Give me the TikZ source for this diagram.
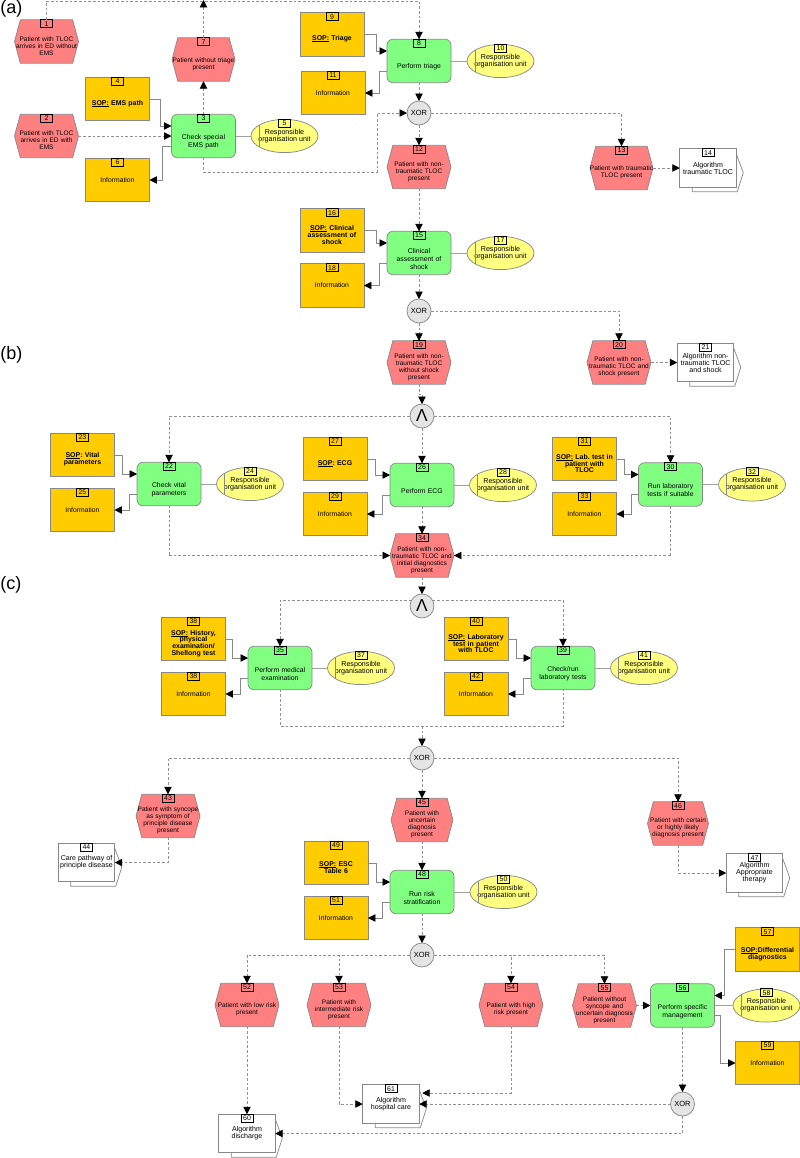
\documentclass[tikz,border=0pt]{standalone}
\usepackage{fontspec}
\setmainfont{Liberation Sans}
\usetikzlibrary{positioning}
\usetikzlibrary{arrows.meta, shapes.geometric}

\makeatletter
\pgfdeclareshape{evthex}{
	\inheritsavedanchors[from=rectangle]
	\inheritanchorborder[from=rectangle]
	\inheritanchor[from=rectangle]{center}
	\inheritanchor[from=rectangle]{north}
	\inheritanchor[from=rectangle]{south}
	\inheritanchor[from=rectangle]{east}
	\inheritanchor[from=rectangle]{west}
	\backgroundpath{
		\southwest \edef\hxa{\the\pgf@x} \edef\hya{\the\pgf@y}
		\northeast \edef\hxb{\the\pgf@x} \edef\hyb{\the\pgf@y}
		\pgfpathmoveto{\pgfpoint{\hxa}{(\hya+\hyb)/2}}
		\pgfpathlineto{\pgfpoint{\hxa+4.4pt}{\hyb}}
		\pgfpathlineto{\pgfpoint{\hxb-4.4pt}{\hyb}}
		\pgfpathlineto{\pgfpoint{\hxb}{(\hya+\hyb)/2}}
		\pgfpathlineto{\pgfpoint{\hxb-4.4pt}{\hya}}
		\pgfpathlineto{\pgfpoint{\hxa+4.4pt}{\hya}}
		\pgfpathclose
	}
}
\makeatother

\newcommand{\sopmark}[1]{\leavevmode\setbox0=\hbox{#1}\rlap{\rule[-.8pt]{\wd0}{.4pt}}\box0\relax}

\definecolor{evtred}{HTML}{FF8080}
\definecolor{fungreen}{HTML}{80FF80}
\definecolor{docamber}{HTML}{FFCC00}
\definecolor{orgyellow}{HTML}{FFFF80}
\definecolor{gategray}{HTML}{E4E4E4}
\definecolor{edgegray}{HTML}{888888}
\definecolor{flowgray}{HTML}{909090}

\tikzset{
	numtag/.style={label={[numbox]north:#1}},
	numbox/.style={draw=black, line width=.65pt, anchor=north, outer sep=0pt,
		minimum width=9pt, minimum height=6pt, inner sep=0pt, align=center,
		font=\fontsize{5.2}{5.2}\selectfont},
	basebox/.style={draw=edgegray, line width=.55pt, inner sep=0pt, outer sep=0pt, align=center},
	evtbox/.style={basebox, shape=evthex, fill=evtred, text width=(#1+8)*.75pt, inner xsep=-3pt, minimum height=32.6pt,
		font=\fontsize{4.9}{5.25}\selectfont, execute at begin node={\\[5pt]}},
	evtbox/.default=64,
	funbox/.style={basebox, rounded corners=4.5pt, fill=fungreen, text width=54pt, inner xsep=-3pt, minimum height=32.6pt,
		font=\fontsize{5.15}{6}\selectfont, execute at begin node={\\[6.5pt]}},
	sopbox/.style={basebox, fill=docamber, text width=54pt, inner xsep=-3pt, minimum height=32.6pt,
		font=\fontsize{5.2}{5.1}\selectfont\bfseries\frenchspacing, execute at begin node={\\[5.5pt]}},
	infobox/.style={basebox, fill=docamber, minimum width=48pt, minimum height=32.6pt,
		font=\fontsize{5.1}{5.3}\selectfont},
	orgbox/.style={basebox, shape=ellipse, fill=orgyellow, minimum width=50.25pt, minimum height=24.9pt,
		inner xsep=-2.5pt, inner ysep=0pt, font=\fontsize{5.35}{5.25}\selectfont},
	docbox/.style={basebox, fill=white, minimum width=42.4pt, minimum height=28.9pt,
		font=\fontsize{5.3}{5.25}\selectfont},
	doclayer/.style={draw=edgegray, line width=.55pt},
	gatebox/.style={basebox, shape=circle, fill=gategray, minimum size=18pt, font=\fontsize{5.6}{5.6}\selectfont},
	andbox/.style={gatebox, font=\fontsize{13}{13}\selectfont},
	flow/.style={draw=flowgray, line width=.65pt, dash pattern=on 2pt off 1.5pt,
		-{Triangle[color=black,length=5.6pt,width=5.6pt]}},
	flowplain/.style={draw=flowgray, line width=.65pt, dash pattern=on 2pt off 1.5pt},
	ctl/.style={draw=edgegray, line width=.65pt, -{Triangle[color=black,length=5.6pt,width=5.6pt]}},
	assign/.style={draw=edgegray!80, line width=.7pt},
	partlabel/.style={anchor=west, inner sep=0pt, font=\fontsize{13.5}{13.5}\selectfont}
}

\begin{document}
\begin{tikzpicture}[x=.75pt,y=-.75pt]
\useasboundingbox (0,0) rectangle (800,1158);

\node[partlabel] (laba) at (0,9) {(a)};
\node[partlabel] (labb) at (0,355) {(b)};
\node[partlabel] (labc) at (0,585) {(c)};

%part a
\node[evtbox, numtag=1] (e1) at (46.5,41.5) {Patient with TLOC\\arrives in ED without\\EMS};
\node[evtbox, numtag=2] (e2) at (46.5,136) {Patient with TLOC\\arrives in ED with\\EMS};
\node[funbox, numtag=3] (f3) at (203.5,136) {Check special\\EMS path};
\node[sopbox, numtag=4] (s4) at (117.5,99) {\sopmark{SOP:} EMS path};
\node[orgbox, numtag=5] (o5) at (284.5,136) {Responsible\\organisation unit};
\node[infobox, numtag=6] (i6) at (117.5,180) {Information};
\node[evtbox=63, numtag=7] (e7) at (203.5,59.5) {Patient without triage\\present};
\node[funbox, numtag=8] (f8) at (419,61) {Perform triage};
\node[sopbox, numtag=9] (s9) at (332,34.5) {\sopmark{SOP:} Triage};
\node[orgbox, numtag=10] (o10) at (500.5,61) {Responsible\\organisation unit};
\node[infobox, numtag=11] (i11) at (333,93) {Information};
\node[gatebox] (x1) at (419,113) {XOR};
\node[evtbox, numtag=12] (e12) at (419,167) {Patient with non-\\traumatic TLOC\\present};
\node[evtbox=63, numtag=13] (e13) at (621.5,168) {Patient with traumatic\\TLOC present};
\node[docbox, numtag=14] (d14) at (708,168) {Algorithm\\traumatic TLOC};
\node[funbox, numtag=15] (f15) at (419,253) {Clinical\\assessment of\\shock};
\node[sopbox, numtag=16] (s16) at (332,230.5) {\sopmark{SOP:} Clinical\\assessment of\\shock};
\node[orgbox, numtag=17] (o17) at (500.5,253) {Responsible\\organisation unit};
\node[infobox, numtag=18] (i18) at (332,285.5) {Information};
\node[gatebox] (x2) at (419,311) {XOR};
\node[evtbox, numtag=19] (e19) at (419,362.5) {Patient with non-\\traumatic TLOC\\without shock\\present};
\node[evtbox, numtag=20] (e20) at (619,362.5) {Patient with non-\\traumatic TLOC and\\shock present};
\node[docbox, numtag=21] (d21) at (705.5,362.5) {Algorithm non-\\traumatic TLOC\\and shock};

%part b
\node[andbox] (a1) at (422,416) {Λ};
\node[funbox, numtag=22] (f22) at (169,484) {Check vital\\parameters};
\node[sopbox, numtag=23] (s23) at (82.5,455) {\sopmark{SOP}: Vital\\parameters};
\node[orgbox, numtag=24] (o24) at (250,484) {Responsible\\organisation unit};
\node[infobox, numtag=25] (i25) at (82.5,510) {Information};
\node[funbox, numtag=26] (f26) at (422,485) {Perform ECG};
\node[sopbox, numtag=27] (s27) at (335,459) {\sopmark{SOP}: ECG};
\node[orgbox, numtag=28] (o28) at (503,485) {Responsible\\organisation unit};
\node[infobox, numtag=29] (i29) at (335,514) {Information};
\node[funbox, numtag=30] (f30) at (670.5,484.5) {Run laboratory\\tests if suitable};
\node[sopbox, numtag=31] (s31) at (584.5,459) {\sopmark{SOP:} Lab. test in\\patient with\\TLOC};
\node[orgbox, numtag=32] (o32) at (752,484.5) {Responsible\\organisation unit};
\node[infobox, numtag=33] (i33) at (584.5,514) {Information};
\node[evtbox, numtag=34] (e34) at (422,555.5) {Patient with non-\\traumatic TLOC and\\initial diagnostics\\present};

%part c
\node[andbox] (a2) at (422,606) {Λ};
\node[funbox, numtag=35] (f35) at (280,668) {Perform medical\\examination};
\node[sopbox, numtag=38] (s36) at (193.5,639) {\sopmark{SOP:} History,\\physical\\examination/\\Shellong test};
\node[orgbox, numtag=37] (o37) at (361,668) {Responsible\\organisation unit};
\node[infobox, numtag=38] (i38) at (193.5,694) {Information};
\node[funbox, numtag=39] (f39) at (563,668) {Check/run\\laboratory tests};
\node[sopbox, numtag=40] (s40) at (476,639) {\sopmark{SOP:} Laboratory\\test in patient\\with TLOC};
\node[orgbox, numtag=41] (o41) at (644,668) {Responsible\\organisation unit};
\node[infobox, numtag=42] (i42) at (476,694) {Information};
\node[gatebox] (x3) at (422,758) {XOR};
\node[evtbox, numtag=43] (e43) at (168,816) {Patient with syncope\\as symptom of\\principle disease\\present};
\node[docbox, numtag=44] (d44) at (86.5,862.5) {Care pathway of\\principle disease};
\node[evtbox=62, numtag=45] (e45) at (422,820) {Patient with\\uncertain\\diagnosis\\present};
\node[evtbox=61, numtag=46] (e46) at (678,823.5) {Patient with certain\\or highly likely\\diagnosis present};
\node[docbox, numtag=47] (d47) at (754.5,873) {Algorithm\\Appropriate\\therapy};
\node[funbox, numtag=48] (f48) at (422,892) {Run risk\\stratification};
\node[sopbox, numtag=49] (s49) at (336,863) {\sopmark{SOP:} ESC\\Table 6};
\node[orgbox, numtag=50] (o50) at (503.5,892) {Responsible\\organisation unit};
\node[infobox, numtag=51] (i51) at (336,918) {Information};
\node[gatebox] (x4) at (422,955) {XOR};
\node[evtbox, numtag=52] (e52) at (247,1005) {Patient with low risk\\present};
\node[evtbox, numtag=53] (e53) at (339,1005) {Patient with\\intermediate risk\\present};
\node[evtbox, numtag=54] (e54) at (511,1005) {Patient with high\\risk present};
\node[evtbox, numtag=55] (e55) at (604.5,1005.5) {Patient without\\syncope and\\uncertain diagnosis\\present};
\node[funbox, numtag=56] (f56) at (682.5,1005.5) {Perform specific\\management};
\node[sopbox, numtag=57] (s57) at (767.5,949.5) {\sopmark{SOP:}Differential\\diagnostics};
\node[orgbox, numtag=58] (o58) at (766.5,1005.5) {Responsible\\organisation unit};
\node[infobox, numtag=59] (i59) at (767.5,1063) {Information};
\node[docbox, numtag=60] (d60) at (247,1133.5) {Algorithm\\discharge};
\node[docbox, numtag=61] (d61) at (391,1104) {Algorithm\\hospital care};
\node[gatebox] (x5) at (682.5,1104) {XOR};

%free ends and bends
\coordinate (c1) at (46.5,1);
\coordinate (c2) at (419,1);
\coordinate (c3) at (203.5,0);
\coordinate (c4) at (377,172);
\coordinate (c5) at (422,726);
\coordinate (c6) at (169,555.5);
\coordinate (c7) at (670.5,555.5);
\coordinate (c8) at (419,394);

\foreach \d in {d14,d21,d44,d47,d60,d61}
	\draw[doclayer] (\d.north east) ++(0,5) -- ++(7,19) -- ++(-6,19) -- ++(-45,0) -- ++(0,-5);
\foreach \o in {o5,o10,o17,o24,o28,o32,o37,o41,o50,o58}
	\draw[doclayer] (\o.west) ++(8,-10.7) -- ++(0,21.4);

\foreach \s/\f/\i/\o/\u/\v in {s4/f3/i6/o5/11/9, s9/f8/i11/o10/12/8, s16/f15/i18/o17/12/8,
	s23/f22/i25/o24/8/8, s27/f26/i29/o28/8/8, s31/f30/i33/o32/8/7,
	s36/f35/i38/o37/7/8, s40/f39/i42/o41/8/8, s49/f48/i51/o50/8/8}
{
	\draw[ctl] (\s.east) -- ++(\u,0) |- ([shift={(0,-10)}]\f.west);
	\draw[ctl] ([shift={(0,10)}]\f.west) -- ++(-\v,0) |- (\i.east);
	\draw[assign] (\f.east) -- (\o.west);
}
\draw[ctl] (s57.west) -- ++(-11,0) |- ([shift={(0,-10)}]f56.east);
\draw[ctl] ([shift={(0,10)}]f56.east) -- ++(6,0) |- (i59.west);
\draw[assign] (f56.east) -- (o58.west);

\foreach \a/\b in {e2.east/f3.west, f3.north/e7.south, e7.north/c3, f8.south/x1.north, x1.south/e12.north,
	e13.east/d14.west, e12.south/f15.north, f15.south/x2.north, x2.south/e19.north, e20.east/d21.west,
	a1.south/f26.north, f26.south/e34.north, c6/e34.west, c7/e34.east,
	e34.south/a2.north, c5/x3.north, x3.south/e45.north, e45.south/f48.north, f48.south/x4.north,
	f56.south/x5.north, e55.east/f56.west, e52.south/d60.north, x5.west/d61.east}
	\draw[flow] (\a) -- (\b);
\foreach \a/\b in {x1.east/e13.north, x2.east/e20.north, a1.west/f22.north, a1.east/f30.north,
	a2.150/f35.north, a2.30/f39.north, x3.west/e43.north, x3.east/e46.north,
	x4.west/e52.north, x4.west/e53.north, x4.east/e54.north, x4.east/e55.north}
	\draw[flow] (\a) -| (\b);

\draw[flow] (e1.north) |- (c1) -- (c2) -- (f8.north);
\draw[flow] (f3.south) |- (c4) |- (x1.west);
\draw[flow] (e19.south) -- (c8) -| (a1.north);
\draw[flowplain] (f22.south) -- (c6);
\draw[flowplain] (f30.south) -- (c7);
\draw[flowplain] (f35.south) |- (c5) -| (f39.south);
\draw[flow] (e43.south) |- (d44.east);
\draw[flow] (e46.south) |- (d47.west);
\draw[flow] (e53.south) |- (d61.west);
\draw[flow] (e54.south) |- ([shift={(3,-11)}]d61.east);
\draw[flow] (x5.south) |- (d60.east);
\end{tikzpicture}
\end{document}
